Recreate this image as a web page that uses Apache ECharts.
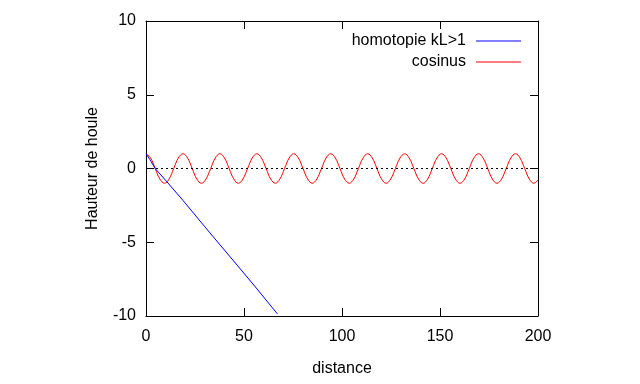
<!DOCTYPE html>
<html>
<head>
<meta charset="utf-8">
<script src="https://cdn.jsdelivr.net/npm/echarts@6/dist/echarts.min.js"></script>
<style>html,body{margin:0;padding:0;background:#fff}#c{width:640px;height:384px}</style>
</head>
<body>
<div id="c"></div>
<script>
var seriesNames = ['homotopie kL>1', 'cosinus'];
var xTicks = [0, 50, 100, 150, 200];
var yTicks = [-10, -5, 0, 5, 10];

var homX = [0, 2, 4.7, 10, 18.85, 30, 43, 55, 67];
var homY = [1, 0.6, 0, -0.8, -2.16, -3.95, -6.0, -7.9, -9.85];

var cosX = [0, 2.36, 4.71, 7.07, 9.42, 11.78, 14.14, 16.49, 18.85, 21.21, 23.56, 25.92, 28.27, 30.63, 32.99, 35.34,
  37.70, 40.06, 42.41, 44.77, 47.12, 49.48, 51.84, 54.19, 56.55, 58.90, 61.26, 63.62, 65.97, 68.33, 70.69, 73.04,
  75.40, 77.75, 80.11, 82.47, 84.82, 87.18, 89.54, 91.89, 94.25, 96.61, 98.96, 101.32, 103.67, 106.03, 108.38, 110.74,
  113.10, 115.45, 117.81, 120.17, 122.52, 124.88, 127.23, 129.59, 131.95, 134.30, 136.66, 139.02, 141.37, 143.73, 146.08, 148.44,
  150.80, 153.15, 155.51, 157.87, 160.22, 162.58, 164.93, 167.29, 169.65, 172.00, 174.36, 176.71, 179.07, 181.43, 183.78, 186.14,
  188.50, 190.85, 193.21, 195.56, 197.92, 200];
var cosY = [1, 0.71, 0, -0.71, -1, -0.71, 0, 0.71, 1, 0.71, 0, -0.71, -1, -0.71, 0, 0.71,
  1, 0.71, 0, -0.71, -1, -0.71, 0, 0.71, 1, 0.71, 0, -0.71, -1, -0.71, 0, 0.71,
  1, 0.71, 0, -0.71, -1, -0.71, 0, 0.71, 1, 0.71, 0, -0.71, -1, -0.71, 0, 0.71,
  1, 0.71, 0, -0.71, -1, -0.71, 0, 0.71, 1, 0.71, 0, -0.71, -1, -0.71, 0, 0.71,
  1, 0.71, 0, -0.71, -1, -0.71, 0, 0.71, 1, 0.71, 0, -0.71, -1, -0.71, 0, 0.71,
  1, 0.71, 0, -0.71, -1, -0.77];

function pairs(xs, ys) { return xs.map(function (x, i) { return [x, ys[i]]; }); }

var FONT = '"Liberation Sans", Arial, sans-serif';
var axisCommon = {
  axisLine: { show: true, onZero: false, lineStyle: { color: '#000', width: 1 } },
  axisTick: { show: true, inside: true, length: 8, lineStyle: { color: '#000' } },
  splitLine: { show: false }
};

var chart = echarts.init(document.getElementById('c'), null, { renderer: 'canvas' });
chart.setOption({
  animation: false,
  backgroundColor: '#fff',
  textStyle: { fontFamily: FONT },
  grid: { left: 146, right: 102, top: 21, bottom: 68 },
  legend: {
    data: seriesNames,
    orient: 'vertical',
    right: 119,
    top: 33,
    padding: 0,
    align: 'right',
    itemWidth: 45,
    itemHeight: 1,
    itemGap: 5,
    icon: 'rect',
    textStyle: { fontFamily: FONT, fontSize: 16, color: '#000', padding: [0, 5, 0, 0] }
  },
  xAxis: [
    Object.assign({
      type: 'value', min: xTicks[0], max: xTicks[xTicks.length - 1], interval: 50,
      name: 'distance', nameLocation: 'middle', nameGap: 45,
      nameTextStyle: { fontFamily: FONT, fontSize: 16, color: '#000' },
      axisLabel: { fontFamily: FONT, fontSize: 16, color: '#000', margin: 13 }
    }, axisCommon),
    Object.assign({
      type: 'value', position: 'top', min: xTicks[0], max: xTicks[xTicks.length - 1], interval: 50,
      axisLabel: { show: false }
    }, axisCommon)
  ],
  yAxis: [
    Object.assign({
      type: 'value', min: yTicks[0], max: yTicks[yTicks.length - 1], interval: 5,
      name: 'Hauteur de houle', nameLocation: 'middle', nameGap: 45,
      nameTextStyle: { fontFamily: FONT, fontSize: 16, color: '#000' },
      axisLabel: { fontFamily: FONT, fontSize: 16, color: '#000', margin: 10 }
    }, axisCommon),
    Object.assign({
      type: 'value', position: 'right', min: yTicks[0], max: yTicks[yTicks.length - 1], interval: 5,
      axisLabel: { show: false }
    }, axisCommon)
  ],
  series: [
    {
      name: seriesNames[0], type: 'line', showSymbol: false, symbol: 'none',
      data: pairs(homX, homY),
      lineStyle: { color: '#0000ff', width: 1 }, itemStyle: { color: '#0000ff' },
      z: 3
    },
    {
      name: seriesNames[1], type: 'line', showSymbol: false, symbol: 'none', smooth: 0.4,
      data: pairs(cosX, cosY),
      lineStyle: { color: '#ff0000', width: 1 }, itemStyle: { color: '#ff0000' },
      z: 2,
      markLine: {
        silent: true, symbol: 'none', label: { show: false },
        lineStyle: { color: '#000', width: 1, type: [2, 3] },
        data: [{ yAxis: 0 }]
      }
    }
  ]
});
</script>
</body>
</html>
